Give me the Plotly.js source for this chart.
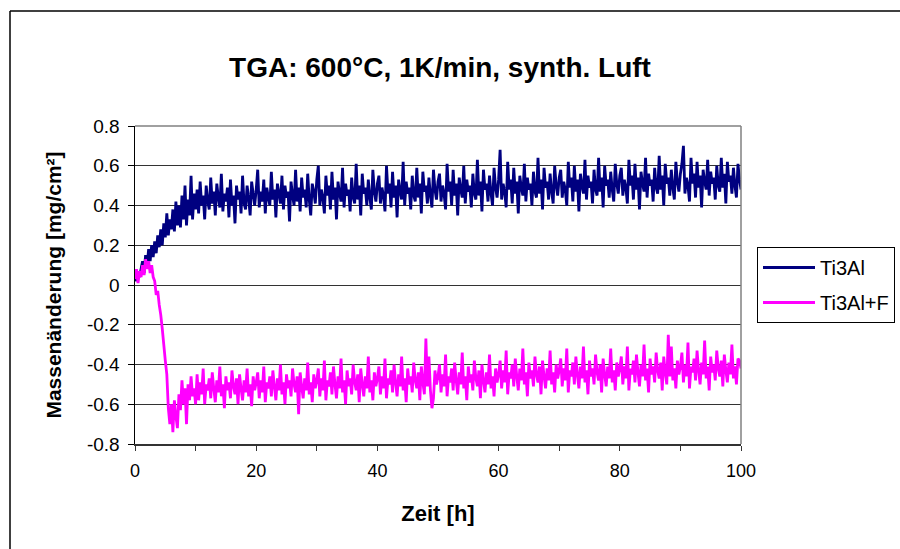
<!DOCTYPE html>
<html>
<head>
<meta charset="utf-8">
<script src="https://cdn.plot.ly/plotly-3.0.1.min.js"></script>
<style>html,body{margin:0;padding:0;background:#fff}#chart{width:900px;height:549px}</style>
</head>
<body>
<div id="chart"></div>
<script>
// Time sampling: start 0 h, step 0.25 h (401 samples, 0..100 h)
const timeStart = 0;
const timeStep = 0.25;

const seriesNames = ["Ti3Al", "Ti3Al+F"];

const ti3al = [
0.05,0.02,0.07,0.04,0.08,
0.12,0.06,0.15,0.10,
0.18,0.12,0.20,0.14,
0.22,0.16,0.25,0.19,
0.28,0.20,0.31,0.24,
0.36,0.25,0.33,0.28,
0.38,0.27,0.42,0.30,
0.40,0.29,0.45,0.33,
0.50,0.30,0.43,0.35,
0.55,0.33,0.46,0.38,
0.48,0.36,0.52,0.40,0.45,0.33,0.50,0.42,0.38,0.54,
0.41,0.47,0.35,0.51,0.44,0.39,0.56,0.37,0.46,0.42,
0.49,0.34,0.53,0.40,0.45,0.31,0.50,0.43,0.47,0.36,
0.55,0.41,0.38,0.50,0.44,0.35,0.52,0.46,0.40,0.48,
0.58,0.39,0.47,0.42,0.53,0.36,0.49,0.44,0.40,0.57,
0.43,0.48,0.34,0.51,0.46,0.41,0.55,0.38,0.50,0.44,
0.47,0.32,0.52,0.45,0.40,0.58,0.42,0.49,0.37,0.54,
0.44,0.48,0.39,0.56,0.43,0.35,0.51,0.47,0.41,0.53,
0.60,0.40,0.48,0.44,0.36,0.55,0.45,0.50,0.38,0.57,
0.43,0.49,0.33,0.52,0.46,0.42,0.59,0.39,0.51,0.45,
0.48,0.37,0.54,0.44,0.41,0.61,0.43,0.50,0.35,0.56,
0.46,0.49,0.40,0.53,0.44,0.38,0.58,0.47,0.42,0.51,
0.55,0.41,0.49,0.45,0.37,0.60,0.46,0.51,0.39,0.57,
0.44,0.50,0.34,0.53,0.47,0.43,0.62,0.40,0.52,0.46,
0.49,0.38,0.55,0.45,0.42,0.59,0.44,0.51,0.36,0.57,
0.47,0.50,0.41,0.54,0.45,0.39,0.58,0.48,0.43,0.52,
0.56,0.42,0.50,0.46,0.38,0.61,0.47,0.52,0.40,0.58,
0.45,0.51,0.35,0.54,0.48,0.44,0.60,0.41,0.53,0.47,
0.50,0.39,0.56,0.46,0.43,0.63,0.45,0.52,0.37,0.58,
0.48,0.51,0.42,0.55,0.46,0.40,0.59,0.49,0.44,0.53,
0.68,0.43,0.51,0.47,0.39,0.62,0.48,0.53,0.41,0.59,
0.46,0.52,0.36,0.55,0.49,0.45,0.61,0.42,0.54,0.48,
0.51,0.40,0.57,0.47,0.44,0.64,0.46,0.53,0.38,0.59,
0.49,0.52,0.43,0.56,0.47,0.41,0.60,0.50,0.45,0.54,
0.58,0.44,0.52,0.48,0.40,0.62,0.49,0.54,0.42,0.60,
0.47,0.53,0.37,0.56,0.50,0.46,0.63,0.43,0.55,0.49,
0.52,0.41,0.58,0.48,0.45,0.64,0.47,0.54,0.39,0.60,
0.50,0.53,0.44,0.57,0.48,0.42,0.61,0.51,0.46,0.55,
0.59,0.45,0.53,0.49,0.41,0.63,0.50,0.55,0.43,0.61,
0.48,0.54,0.38,0.57,0.51,0.47,0.64,0.44,0.56,0.50,
0.53,0.42,0.59,0.49,0.46,0.65,0.48,0.55,0.40,0.61,
0.51,0.54,0.45,0.58,0.49,0.43,0.62,0.52,0.47,0.56,
0.61,0.70,0.46,0.54,0.50,0.42,0.64,0.51,0.56,0.44,
0.62,0.49,0.55,0.39,0.58,0.52,0.48,0.63,0.45,0.57,
0.51,0.54,0.43,0.60,0.50,0.47,0.64,0.49,0.56,0.41,
0.62,0.52,0.55,0.46,0.59,0.50,0.44,0.61,0.53,0.48
];

const ti3alF = [
0.03,0.08,0.01,0.07,0.04,
0.10,0.05,0.13,0.08,
0.12,0.06,0.10,0.04,
0.02,-0.05,-0.03,-0.10,
-0.15,-0.22,-0.30,-0.38,
-0.45,-0.62,-0.70,-0.60,
-0.74,-0.58,-0.66,-0.72,
-0.55,-0.63,-0.48,-0.60,
-0.52,-0.70,-0.50,-0.58,
-0.46,-0.56,-0.52,-0.60,
-0.45,-0.58,-0.49,-0.55,-0.42,-0.60,-0.50,-0.53,-0.47,-0.57,
-0.44,-0.52,-0.59,-0.48,-0.54,-0.41,-0.56,-0.50,-0.62,-0.46,
-0.53,-0.49,-0.57,-0.43,-0.51,-0.55,-0.47,-0.60,-0.45,-0.52,
-0.58,-0.48,-0.54,-0.42,-0.56,-0.50,-0.61,-0.46,-0.53,-0.49,
-0.44,-0.57,-0.48,-0.54,-0.41,-0.59,-0.49,-0.52,-0.46,-0.56,
-0.43,-0.51,-0.58,-0.47,-0.53,-0.40,-0.55,-0.49,-0.60,-0.45,
-0.52,-0.48,-0.56,-0.42,-0.50,-0.54,-0.46,-0.65,-0.44,-0.51,
-0.57,-0.47,-0.53,-0.39,-0.55,-0.49,-0.59,-0.45,-0.52,-0.48,
-0.42,-0.56,-0.47,-0.53,-0.38,-0.58,-0.48,-0.51,-0.44,-0.55,
-0.41,-0.50,-0.57,-0.46,-0.52,-0.37,-0.54,-0.48,-0.60,-0.43,
-0.51,-0.47,-0.55,-0.40,-0.49,-0.53,-0.45,-0.59,-0.42,-0.50,
-0.56,-0.46,-0.52,-0.36,-0.54,-0.48,-0.58,-0.44,-0.51,-0.47,
-0.41,-0.55,-0.46,-0.52,-0.37,-0.57,-0.47,-0.50,-0.43,-0.54,
-0.40,-0.49,-0.56,-0.45,-0.51,-0.36,-0.53,-0.47,-0.59,-0.42,
-0.50,-0.46,-0.54,-0.39,-0.48,-0.52,-0.44,-0.58,-0.41,-0.49,
-0.55,-0.27,-0.51,-0.36,-0.53,-0.62,-0.57,-0.43,-0.50,-0.46,
-0.40,-0.54,-0.45,-0.51,-0.35,-0.56,-0.46,-0.49,-0.42,-0.53,
-0.39,-0.48,-0.55,-0.44,-0.50,-0.34,-0.52,-0.46,-0.58,-0.41,
-0.49,-0.45,-0.53,-0.38,-0.47,-0.51,-0.43,-0.57,-0.40,-0.48,
-0.54,-0.44,-0.50,-0.35,-0.52,-0.46,-0.56,-0.42,-0.49,-0.45,
-0.38,-0.52,-0.43,-0.49,-0.33,-0.55,-0.44,-0.47,-0.40,-0.51,
-0.37,-0.46,-0.53,-0.42,-0.48,-0.32,-0.50,-0.44,-0.56,-0.39,
-0.47,-0.43,-0.51,-0.36,-0.45,-0.49,-0.41,-0.55,-0.38,-0.46,
-0.52,-0.42,-0.48,-0.33,-0.50,-0.44,-0.54,-0.40,-0.47,-0.43,
-0.37,-0.51,-0.42,-0.48,-0.32,-0.54,-0.43,-0.46,-0.39,-0.50,
-0.36,-0.45,-0.52,-0.41,-0.47,-0.31,-0.49,-0.43,-0.55,-0.38,
-0.46,-0.42,-0.50,-0.35,-0.44,-0.48,-0.40,-0.54,-0.37,-0.45,
-0.51,-0.41,-0.47,-0.32,-0.49,-0.43,-0.53,-0.39,-0.46,-0.42,
-0.36,-0.50,-0.41,-0.47,-0.31,-0.53,-0.42,-0.45,-0.38,-0.49,
-0.35,-0.44,-0.51,-0.40,-0.46,-0.30,-0.48,-0.42,-0.54,-0.37,
-0.45,-0.41,-0.49,-0.34,-0.43,-0.47,-0.39,-0.53,-0.36,-0.44,
-0.50,-0.25,-0.46,-0.31,-0.48,-0.42,-0.52,-0.38,-0.45,-0.41,
-0.34,-0.49,-0.40,-0.46,-0.29,-0.52,-0.41,-0.44,-0.37,-0.48,
-0.33,-0.43,-0.50,-0.39,-0.45,-0.28,-0.47,-0.41,-0.53,-0.36,
-0.44,-0.40,-0.48,-0.33,-0.42,-0.46,-0.38,-0.51,-0.35,-0.43,
-0.49,-0.39,-0.45,-0.30,-0.47,-0.41,-0.50,-0.37,-0.38,-0.42
];

const yTickVals = [-0.8,-0.6,-0.4,-0.2,0,0.2,0.4,0.6,0.8];
const yTickText = ["-0.8","-0.6","-0.4","-0.2","0","0.2","0.4","0.6","0.8"];
const xTickVals = [0,20,40,60,80,100];
const xTickText = ["0","20","40","60","80","100"];

const colors = ["#000080", "#ff00ff"];
const font = "Liberation Sans, Arial, sans-serif";

const traces = [ti3al, ti3alF].map((ys, i) => ({
  type: "scatter", mode: "lines",
  name: seriesNames[i], legendgroup: "g" + i,
  x0: timeStart, dx: timeStep, y: ys,
  line: {color: colors[i], width: 2.8, simplify: false},
  hoverinfo: "skip"
}));

// plot area in pixels: x 135..741, y 126..444
const L = 135, R = 741, T = 126, B = 444, W = 900, H = 549;
const px = v => (v - L) / (R - L);
const py = v => (B - v) / (B - T);

const layout = {
  width: W, height: H,
  margin: {l: L, r: W - R, t: T, b: H - B, pad: 0},
  paper_bgcolor: "#ffffff", plot_bgcolor: "#ffffff",
  font: {family: font, color: "#000"},
  title: {text: "<b>TGA: 600°C, 1K/min, synth. Luft</b>", font: {family: font, size: 28, color: "#000"},
          x: 440 / W, xanchor: "center", y: 1 - 67 / H, yanchor: "middle", xref: "container", yref: "container"},
  xaxis: {
    range: [0, 100], tickvals: xTickVals, ticktext: xTickText,
    ticks: "outside", ticklen: 5, tickwidth: 1, tickcolor: "#333",
    minor: {dtick: 10, ticks: "outside", ticklen: 5, tickcolor: "#333", showgrid: false},
    showgrid: false, zeroline: false,
    showline: true, linecolor: "#333", linewidth: 2,
    tickfont: {size: 18, family: font}, ticklabelstandoff: 4,
    title: {text: "<b>Zeit [h]</b>", font: {size: 22, family: font}, standoff: 26}
  },
  yaxis: {
    range: [-0.8, 0.8], tickvals: yTickVals, ticktext: yTickText,
    ticks: "outside", ticklen: 6, tickwidth: 1, tickcolor: "#000",
    showgrid: true, gridcolor: "#333", gridwidth: 1,
    zeroline: false, showline: true, linecolor: "#000", linewidth: 1.5,
    tickfont: {size: 19, family: font}, ticklabelstandoff: 4,
    title: {text: "<b>Massenänderung [mg/cm²]</b>", font: {size: 21, family: font}, standoff: 19}
  },
  legend: {
    xref: "container", yref: "container",
    x: 757 / W, y: 1 - 247 / H, xanchor: "left", yanchor: "top",
    bgcolor: "#fff", bordercolor: "#000", borderwidth: 1,
    font: {size: 20, family: font}, tracegroupgap: 6, itemwidth: 52
  },
  showlegend: true,
  shapes: [
    {type: "line", xref: "paper", yref: "paper", x0: 0, x1: 1, y0: 1, y1: 1, line: {color: "#808080", width: 1.5}},
    {type: "line", xref: "paper", yref: "paper", x0: 1, x1: 1, y0: 0, y1: 1, line: {color: "#808080", width: 1.5}},
    {type: "line", xref: "paper", yref: "paper", x0: px(10), x1: px(900), y0: py(11), y1: py(11), line: {color: "#000", width: 1.5}},
    {type: "line", xref: "paper", yref: "paper", x0: px(10), x1: px(10), y0: py(11), y1: py(549), line: {color: "#000", width: 1.5}}
  ]
};

Plotly.newPlot("chart", traces, layout, {displayModeBar: false, staticPlot: true});
</script>
</body>
</html>
